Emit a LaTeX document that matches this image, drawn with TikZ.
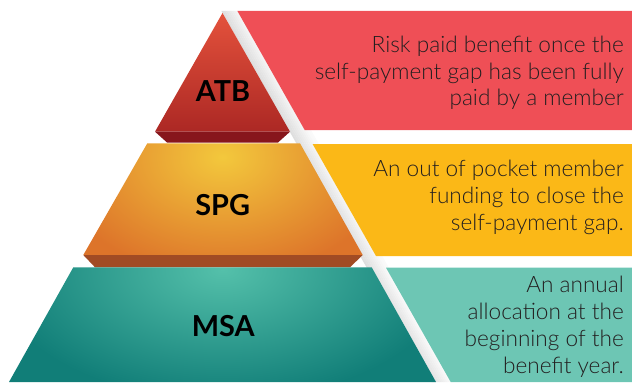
\documentclass[tikz,border=0pt]{standalone}
\usepackage{fontspec}
\setmainfont{Lato}
\newfontfamily\lightfont{Lato Light}
\usepackage{tikz}
\usepackage{xcolor}
\usetikzlibrary{positioning}
\definecolor{atbband}{RGB}{239, 79, 86}
\definecolor{spgband}{RGB}{251, 184, 23}
\definecolor{msaband}{RGB}{109, 198, 180}
\definecolor{atbtop}{RGB}{228, 82, 60}
\definecolor{atbbottom}{RGB}{172, 40, 36}
\definecolor{atblip}{RGB}{135, 22, 28}
\definecolor{spgglow}{RGB}{243, 200, 60}
\definecolor{spgedge}{RGB}{221, 116, 42}
\definecolor{spglip}{RGB}{161, 75, 36}
\definecolor{msaglow}{RGB}{84, 192, 170}
\definecolor{msaedge}{RGB}{17, 126, 120}
\definecolor{bandink}{RGB}{35, 31, 32}
\tikzset{
    tierlabel/.style={font=\fontsize{29}{30}\selectfont\bfseries, text=black, inner sep=0pt, anchor=base},
    bandtext/.style={font=\lightfont\fontsize{22.7}{26.8}\selectfont, text=bandink, align=right, anchor=east, inner sep=0pt}
}

\begin{document}
\begin{tikzpicture}[x=1bp, y=1bp]
    \useasboundingbox (0,0) rectangle (632,382);
    % shadow strip along the right slope
    \foreach \i [evaluate=\i as \g using {max(13-1.2*\i,2)}] in {0,...,10}
        \fill[black!\g] ({221.4+2*\i},371) -- ({223.6+2*\i},371) -- ({433.6+2*\i},0) -- ({431.4+2*\i},0) -- cycle;
    % bands
    \fill[atbband] (237.4,371) -- (632,371) -- (632,252) -- (304.7,252) -- cycle;
    \fill[spgband] (312.6,238) -- (632,238) -- (632,126) -- (376.0,126) -- cycle;
    \fill[msaband] (386,114.3) -- (632,114.3) -- (632,0) -- (450.7,0) -- cycle;
    % tiers
    \shade[top color=atbtop, bottom color=atbbottom] (222.5,369) -- (290,250.3) -- (155,250.3) -- cycle;
    \fill[atblip] (155,250.3) -- (290,250.3) -- (278,239.5) -- (167,239.5) -- cycle;
    \begin{scope}
        \clip (147.3,238.7) -- (300,238.7) -- (362.7,127) -- (83.3,127) -- cycle;
        \shade[inner color=spgglow, outer color=spgedge] (52.5,105) rectangle (392.5,345);
    \end{scope}
    \fill[spglip] (83.3,127) -- (362.7,127) -- (350,114.7) -- (95,114.7) -- cycle;
    \begin{scope}
        \clip (73.3,114.7) -- (371.7,114.7) -- (436,0) -- (9,0) -- cycle;
        \shade[inner color=msaglow, outer color=msaedge] (-7.5,-18) rectangle (452.5,242);
    \end{scope}
    % labels
    \node[tierlabel] (atb) at (223,281) {ATB};
    \node[tierlabel] (spg) at (222.7,167) {SPG};
    \node[tierlabel] (msa) at (223.3,46) {MSA};
    \node[bandtext] (atbtext) at (624,309) {Risk paid benefit once the\\self-payment gap has been fully\\paid by a member};
    \node[bandtext] (spgtext) at (624,184.8) {An out of pocket member\\funding to close the\\self-payment gap.};
    \node[bandtext] (msatext) at (624,55.2) {An annual\\allocation at the\\beginning of the\\benefit year.};
\end{tikzpicture}
\end{document}
